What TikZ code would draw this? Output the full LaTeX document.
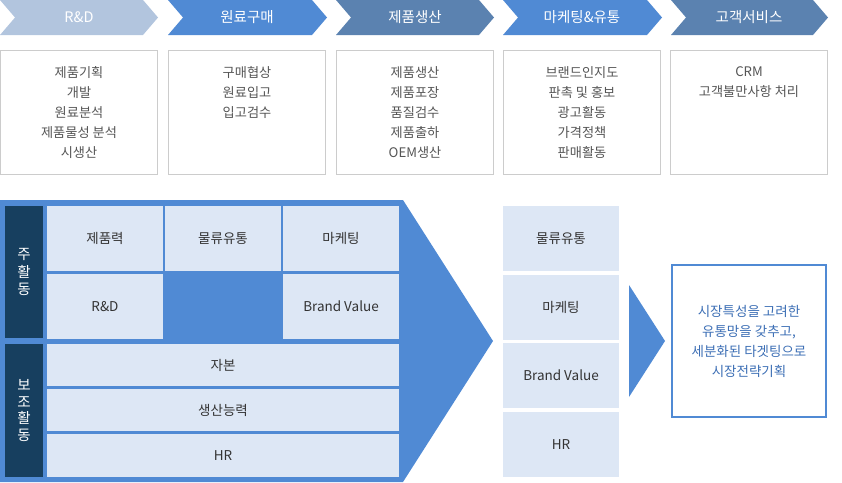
\documentclass[tikz,border=0pt]{standalone}
\usepackage{fontspec}
\setmainfont{Noto Sans CJK KR}
\usetikzlibrary{calc}

\definecolor{stagelight}{HTML}{B2C5DE}
\definecolor{stageblue}{HTML}{508AD4}
\definecolor{stagesteel}{HTML}{5B82B0}
\definecolor{navy}{HTML}{173F5F}
\definecolor{celllight}{HTML}{DDE7F5}
\definecolor{boxgray}{HTML}{CCCCCC}
\definecolor{textgray}{HTML}{555555}
\definecolor{resultblue}{HTML}{3D6FB5}

\tikzset{
  stagetext/.style={text=white, font=\fontsize{14.5}{16}\selectfont},
  detailbox/.style={draw=boxgray, line width=1pt, fill=white, minimum width=157, minimum height=124, inner sep=0},
  detailtext/.style={text=textgray, align=center, anchor=north, inner sep=0, font=\fontsize{13.2}{20}\selectfont},
  sidebar/.style={fill=navy, text=white, align=center, minimum width=38, inner sep=0},
  cell/.style={fill=celllight, text=black!80, inner sep=0, font=\fontsize{13.5}{15}\selectfont},
}

\begin{document}
\begin{tikzpicture}[x=1pt, y=-1pt]
    \useasboundingbox (0,0) rectangle (842,482);

    % value chain stages
    \fill[stagelight] (0,0) -- (143,0) -- (158,17.5) -- (143,35) -- (0,35) -- (15,17.5) -- cycle;
    \fill[stageblue]  (168,0) -- (312,0) -- (327,17.5) -- (312,35) -- (168,35) -- (183,17.5) -- cycle;
    \fill[stagesteel] (336,0) -- (479,0) -- (494,17.5) -- (479,35) -- (336,35) -- (351,17.5) -- cycle;
    \fill[stageblue]  (503,0) -- (647,0) -- (662,17.5) -- (647,35) -- (503,35) -- (518,17.5) -- cycle;
    \fill[stagesteel] (671,0) -- (813,0) -- (828,17.5) -- (813,35) -- (671,35) -- (686,17.5) -- cycle;
    \node[stagetext] (S1) at ( 79, 17) {R\&D};
    \node[stagetext] (S2) at (247, 17) {원료구매};
    \node[stagetext] (S3) at (415, 17) {제품생산};
    \node[stagetext] (S4) at (582, 17) {마케팅\&유통};
    \node[stagetext] (S5) at (749, 17) {고객서비스};

    % details under each stage
    \node[detailbox] (D1) at ( 79, 112) {};
    \node[detailbox] (D2) at (247, 112) {};
    \node[detailbox] (D3) at (415, 112) {};
    \node[detailbox] (D4) at (582, 112) {};
    \node[detailbox] (D5) at (749, 112) {};
    \node[detailtext] (T1) at ( 79, 66) {제품기획\\개발\\원료분석\\제품물성 분석\\시생산};
    \node[detailtext] (T2) at (247, 66) {구매협상\\원료입고\\입고검수};
    \node[detailtext] (T3) at (415, 66) {제품생산\\제품포장\\품질검수\\제품출하\\OEM생산};
    \node[detailtext] (T4) at (582, 66) {브랜드인지도\\판촉 및 홍보\\광고활동\\가격정책\\판매활동};
    \node[detailtext] (T5) at (749, 66) {CRM\\고객불만사항 처리};

    % activities chevron
    \fill[stageblue] (0,200) -- (403,200) -- (493,341) -- (403,482) -- (0,482) -- cycle;
    \node[sidebar, minimum height=132, font=\fontsize{14.5}{17.5}\selectfont] (main) at (24, 272) {주\\활\\동};
    \node[sidebar, minimum height=133, font=\fontsize{14.5}{16.5}\selectfont] (support) at (24, 410.5) {보\\조\\활\\동};

    \node[cell, minimum width=116, minimum height=65] (product)  at (105, 238.5) {제품력};
    \node[cell, minimum width=116, minimum height=65] (logistic) at (223, 238.5) {물류유통};
    \node[cell, minimum width=116, minimum height=65] (market)   at (341, 238.5) {마케팅};
    \node[cell, minimum width=116, minimum height=65] (rnd)      at (105, 306.5) {R\&D};
    \node[cell, minimum width=116, minimum height=65] (brand)    at (341, 306.5) {Brand Value};
    \node[cell, minimum width=352, minimum height=42] (capital)  at (223, 365) {자본};
    \node[cell, minimum width=352, minimum height=42] (capacity) at (223, 410) {생산능력};
    \node[cell, minimum width=352, minimum height=43] (hr)       at (223, 455.5) {HR};

    % strengths
    \node[cell, minimum width=116, minimum height=65] (logistic2) at (561, 238.5) {물류유통};
    \node[cell, minimum width=116, minimum height=65] (market2)   at (561, 307.5) {마케팅};
    \node[cell, minimum width=116, minimum height=65] (brand2)    at (561, 375.5) {Brand Value};
    \node[cell, minimum width=116, minimum height=65] (hr2)       at (561, 444.5) {HR};

    \fill[stageblue] (629,285) -- (665,341) -- (629,397) -- cycle;

    \node[draw=stageblue, line width=2pt, minimum width=154, minimum height=152, inner sep=0] (result) at (749, 341) {};
    \node[text=resultblue, align=center, inner sep=0, font=\fontsize{13.5}{20}\selectfont] (resulttext) at (result.center)
      {시장특성을 고려한\\유통망을 갖추고,\\세분화된 타겟팅으로\\시장전략기획};
\end{tikzpicture}
\end{document}
